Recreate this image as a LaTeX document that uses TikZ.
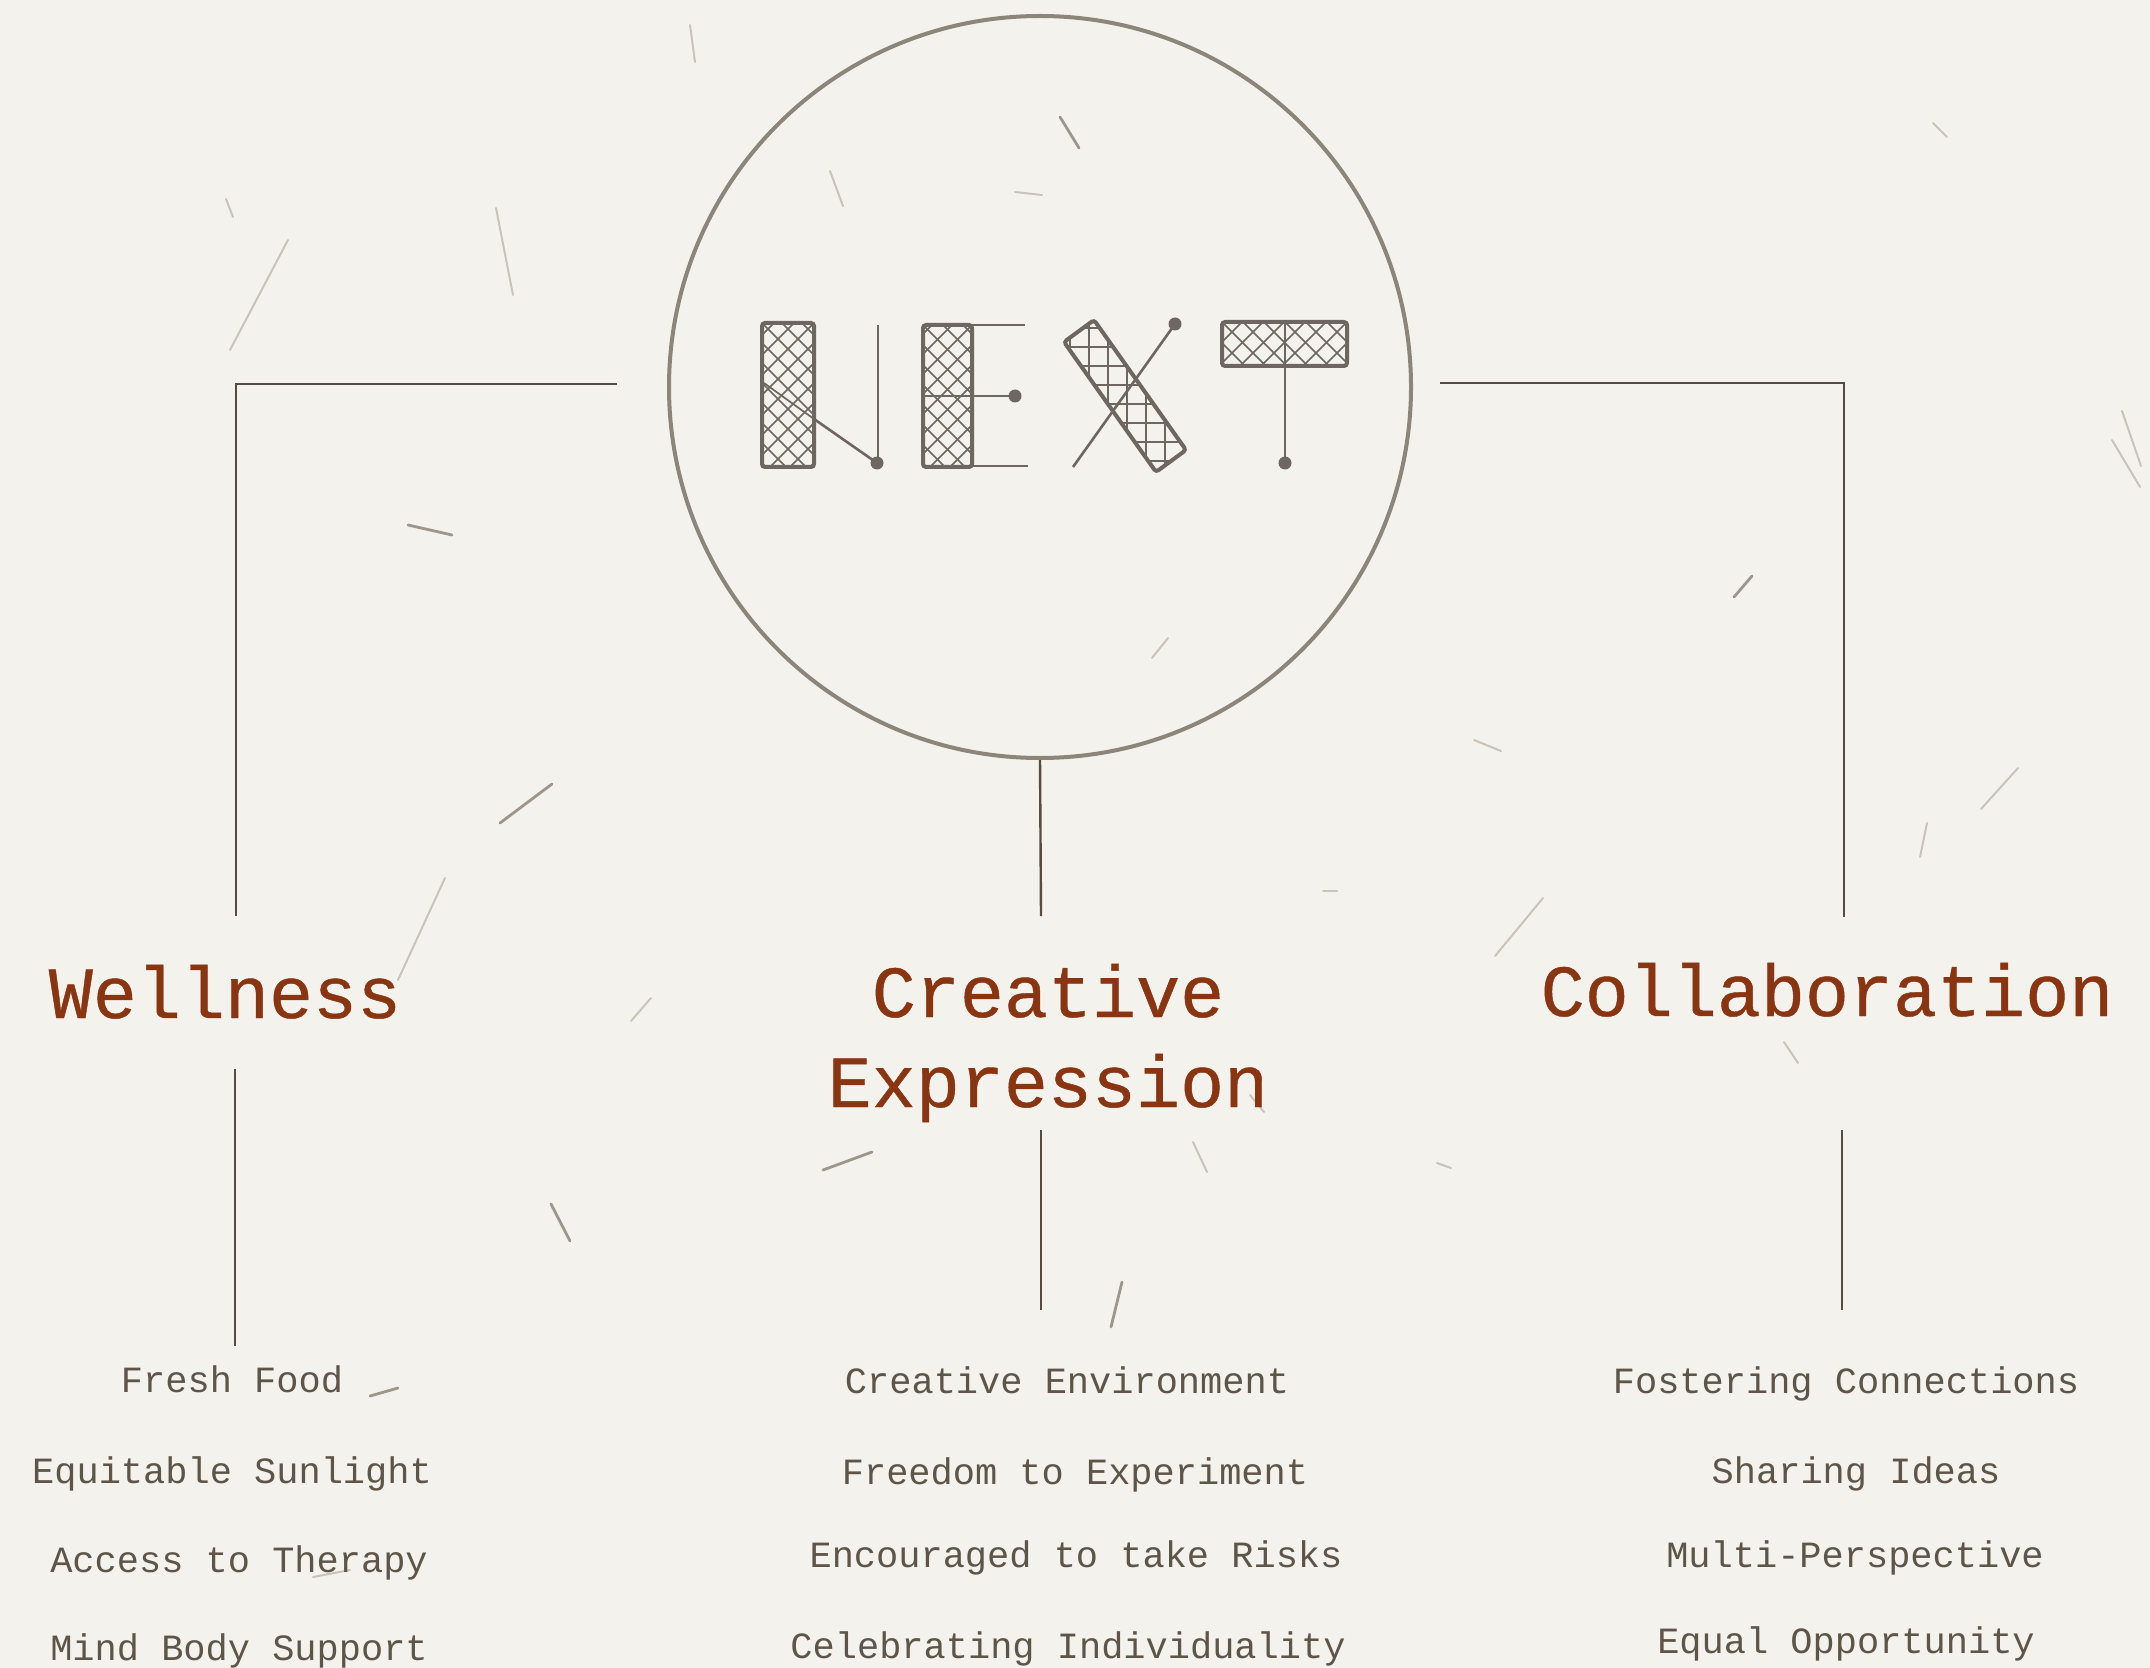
\documentclass[tikz,border=0pt]{standalone}
\usepackage{fontspec}
\newfontfamily\headfont[FakeBold=0.6]{Liberation Mono}
\newfontfamily\bodyfont{Liberation Mono}
\definecolor{paper}{HTML}{F4F2ED}
\definecolor{rust}{HTML}{8A3512}
\definecolor{ink}{HTML}{5E5549}
\definecolor{ringc}{HTML}{8C857A}
\definecolor{logoc}{HTML}{6E6661}
\definecolor{linec}{HTML}{564C42}
\definecolor{fiberlight}{HTML}{C9C4BA}
\definecolor{fiberdark}{HTML}{9D968A}
\tikzset{
  conn/.style={draw=linec, line width=1.2pt},
  heading/.style={font=\headfont\fontsize{36.7pt}{45pt}\selectfont, text=rust, inner sep=0pt, align=center},
  item/.style={font=\bodyfont\fontsize{18.5pt}{22pt}\selectfont, text=ink, inner sep=0pt, anchor=base},
  thick logo/.style={draw=logoc, line width=2pt, rounded corners=1.5pt},
  thin logo/.style={draw=logoc, line width=1.3pt},
  hatch/.style={draw=logoc, line width=0.85pt},
  logodot/.style={fill=logoc},
  fiber/.style={draw=fiberlight, line width=1pt, line cap=round},
  darkfiber/.style={draw=fiberdark, line width=1.4pt, line cap=round}
}
\begin{document}
\begin{tikzpicture}[x=0.5pt, y=-0.5pt]
\fill[paper] (0,0) rectangle (2150,1668);
\useasboundingbox (0,0) rectangle (2150,1668);

% paper fibres
\draw[fiber] (690,25) -- (695,62);
\draw[darkfiber] (1060,117) -- (1079,148);
\draw[fiber] (830,171) -- (843,206);
\draw[fiber] (1015,192) -- (1042,195);
\draw[fiber] (226,199) -- (233,217);
\draw[fiber] (496,208) -- (513,295);
\draw[fiber] (288,240) -- (230,350);
\draw[darkfiber] (408,525) -- (452,535);
\draw[fiber] (1933,123) -- (1947,137);
\draw[fiber] (2112,440) -- (2140,487);
\draw[fiber] (2122,411) -- (2141,466);
\draw[darkfiber] (1734,597) -- (1752,576);
\draw[fiber] (1152,658) -- (1168,638);
\draw[darkfiber] (500,823) -- (552,784);
\draw[fiber] (445,878) -- (398,980);
\draw[fiber] (631,1021) -- (651,998);
\draw[fiber] (1495,956) -- (1543,898);
\draw[fiber] (1920,857) -- (1927,823);
\draw[fiber] (1981,809) -- (2018,768);
\draw[fiber] (1323,891) -- (1337,891);
\draw[fiber] (1474,740) -- (1501,751);
\draw[fiber] (1193,1142) -- (1207,1172);
\draw[fiber] (1437,1163) -- (1451,1168);
\draw[darkfiber] (823,1170) -- (872,1152);
\draw[darkfiber] (551,1204) -- (570,1241);
\draw[darkfiber] (1111,1327) -- (1122,1282);
\draw[darkfiber] (370,1396) -- (398,1388);
\draw[fiber] (313,1577) -- (350,1570);
\draw[fiber] (1250,1095) -- (1264,1112);
\draw[fiber] (1784,1042) -- (1798,1063);

% hub circle
\node[circle, draw=ringc, line width=2pt, minimum size=371pt, inner sep=0pt] (hub) at (1040,387) {};

% ---------- NEXT logo ----------
% N
\begin{scope}
  \clip (762,323) rectangle (814,467);
  \foreach \k in {-8,...,8} {
    \draw[hatch] (762+\k*20,323) -- ++(160,160);
    \draw[hatch] (814-\k*20,323) -- ++(-160,160);
  }
\end{scope}
\draw[hatch] (764,383) -- (814,419);
\draw[thick logo] (762,323) rectangle (814,467);
\draw[thin logo] (814,419) -- (877,463);
\draw[thin logo] (878,325) -- (878,463);
\fill[logodot] (877,463) circle (6.5);
% E
\begin{scope}
  \clip (923,325) rectangle (972,467);
  \foreach \k in {-8,...,8} {
    \draw[hatch] (923+\k*20,325) -- ++(160,160);
    \draw[hatch] (972-\k*20,325) -- ++(-160,160);
  }
\end{scope}
\draw[thick logo] (923,325) rectangle (972,467);
\draw[thin logo] (972,325) -- (1025,325);
\draw[thin logo] (923,396) -- (1015,396);
\draw[thin logo] (972,466) -- (1028,466);
\fill[logodot] (1015,396) circle (6.5);
% X
\draw[thin logo] (1175,324) -- (1073,467);
\begin{scope}
  \clip (1094,320) -- (1064,342) -- (1156,472) -- (1186,450) -- cycle;
  \foreach \k in {0,...,8} {
    \draw[hatch] (1060,328+\k*19) -- (1190,328+\k*19);
    \draw[hatch] (1070+\k*19,315) -- (1070+\k*19,475);
  }
\end{scope}
\draw[thick logo] (1094,320) -- (1064,342) -- (1156,472) -- (1186,450) -- cycle;
\fill[logodot] (1175,324) circle (6.5);
% T
\begin{scope}
  \clip (1222,322) rectangle (1347,366);
  \foreach \k in {-4,...,8} {
    \draw[hatch] (1222+\k*21,322) -- ++(60,60);
    \draw[hatch] (1347-\k*21,322) -- ++(-60,60);
  }
\end{scope}
\draw[thick logo] (1222,322) rectangle (1347,366);
\draw[thin logo] (1285,322) -- (1285,463);
\fill[logodot] (1285,463) circle (6.5);

% ---------- headings ----------
\node[heading, anchor=base] (well) at (225,1018) {Wellness};
\node[heading, anchor=base] (crea) at (1048,1107) {Creative\\Expression};
\node[heading, anchor=base] (coll) at (1827,1016) {Collaboration};

% ---------- items ----------
\node[item] (w1) at (232,1392) {Fresh Food};
\node[item] (w2) at (232,1483) {Equitable Sunlight};
\node[item] (w3) at (239,1572) {Access to Therapy};
\node[item] (w4) at (239,1660) {Mind Body Support};

\node[item] (c1) at (1067,1393) {Creative Environment};
\node[item] (c2) at (1075,1484) {Freedom to Experiment};
\node[item] (c3) at (1076,1567) {Encouraged to take Risks};
\node[item] (c4) at (1068,1658) {Celebrating Individuality};

\node[item] (r1) at (1846,1393) {Fostering Connections};
\node[item] (r2) at (1856,1483) {Sharing Ideas};
\node[item] (r3) at (1855,1567) {Multi-Perspective};
\node[item] (r4) at (1846,1653) {Equal Opportunity};

% ---------- connectors ----------
\coordinate (lstart) at (617,384);
\coordinate (lend) at (236,916);
\coordinate (cend) at (1041,916);
\coordinate (rstart) at (1440,383);
\coordinate (rend) at (1844,917);
\draw[conn] (lstart) -| (lend);
\draw[conn] (hub.south) -- (cend);
\draw[conn] (rstart) -| (rend);

\coordinate (wa) at (235,1069);
\coordinate (wb) at (235,1346);
\coordinate (ca) at (1041,1130);
\coordinate (cb) at (1041,1310);
\coordinate (ra) at (1842,1130);
\coordinate (rb) at (1842,1310);
\draw[conn] (wa) -- (wb);
\draw[conn] (ca) -- (cb);
\draw[conn] (ra) -- (rb);
\end{tikzpicture}
\end{document}
